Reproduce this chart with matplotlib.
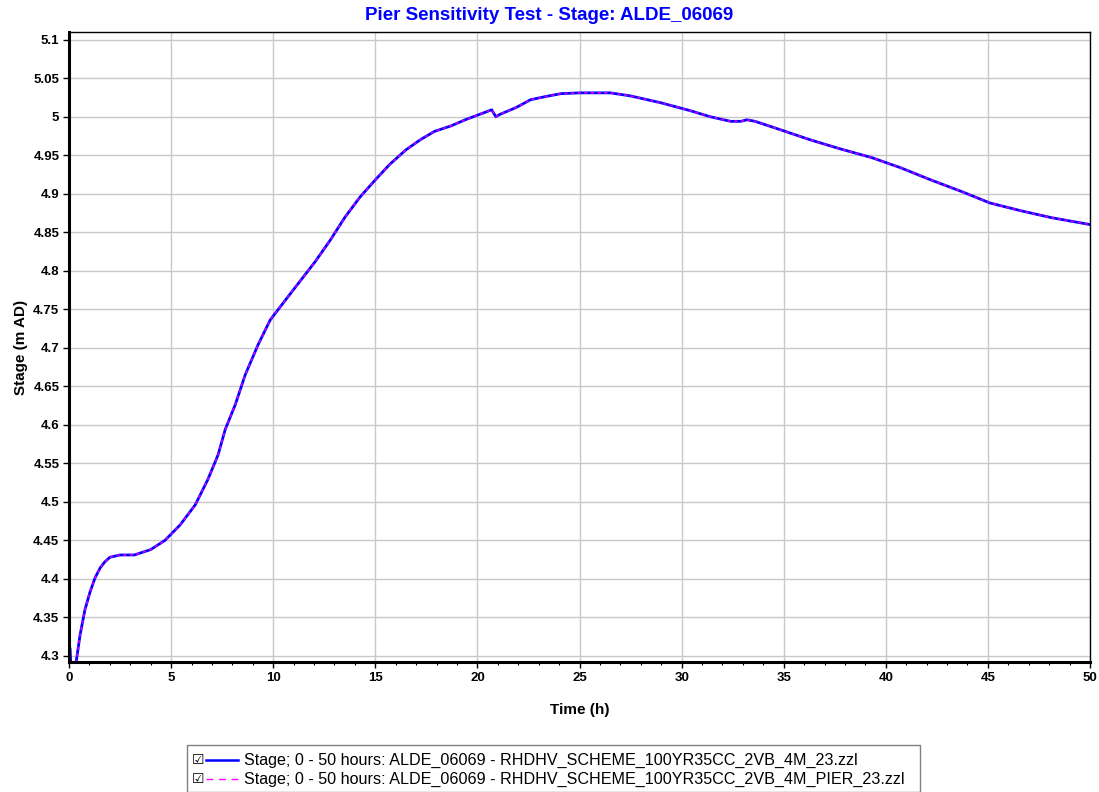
#!/usr/bin/env python3
import matplotlib

matplotlib.use("Agg")
import matplotlib.pyplot as plt
from matplotlib.patches import Rectangle
from matplotlib.lines import Line2D
from matplotlib.ticker import MultipleLocator
import numpy as np

plt.rcParams["font.family"] = ["Liberation Sans", "DejaVu Sans"]

# time (h) and stage (m AD)
time_h = [0.0, 0.05, 0.1, 0.35, 0.54, 0.78, 1.03, 1.27, 1.52, 1.75, 2.0, 2.5, 3.2, 4.0,
          4.7, 5.44, 6.18, 6.8, 7.3, 7.65, 8.14, 8.63, 9.26, 9.85, 10.6, 11.3, 12.06,
          12.8, 13.5, 14.26, 15.0, 15.7, 16.5, 17.2, 17.9, 18.7, 19.4, 20.1, 20.7,
          20.9, 21.1, 21.9, 22.6, 23.3, 24.1, 25.05, 26.5, 27.5, 29.0, 30.4, 31.4,
          32.4, 32.9, 33.2, 33.6, 34.85, 36.3, 37.8, 39.3, 40.7, 42.2, 43.7, 45.1,
          46.6, 48.1, 50.0]
stage_base = [4.31, 4.31, 4.285, 4.292, 4.327, 4.36, 4.383, 4.401, 4.414, 4.422, 4.428,
              4.431, 4.431, 4.438, 4.45, 4.47, 4.496, 4.529, 4.561, 4.594, 4.626,
              4.665, 4.704, 4.736, 4.762, 4.786, 4.812, 4.84, 4.869, 4.896, 4.918,
              4.938, 4.957, 4.970, 4.981, 4.988, 4.996, 5.003, 5.009, 5.0, 5.003,
              5.012, 5.022, 5.026, 5.03, 5.031, 5.031, 5.027, 5.018, 5.008, 5.0,
              4.994, 4.994, 4.996, 4.994, 4.983, 4.97, 4.958, 4.947, 4.934, 4.918,
              4.903, 4.888, 4.878, 4.869, 4.86]
stage_pier = list(stage_base)

labels = [
    "Stage; 0 - 50 hours: ALDE_06069 - RHDHV_SCHEME_100YR35CC_2VB_4M_23.zzl",
    "Stage; 0 - 50 hours: ALDE_06069 - RHDHV_SCHEME_100YR35CC_2VB_4M_PIER_23.zzl",
]

fig = plt.figure(figsize=(10.99, 7.92), dpi=100)
ax = fig.add_axes([0.0628, 0.1641, 0.9290, 0.7955])

ax.plot(time_h, stage_base, color="#0000ff", lw=2.0)
ax.plot(time_h, stage_pier, color="#ff00ff", lw=1.2, dashes=(2, 2), alpha=0.8)

ax.set_xlim(0, 50)
ax.set_ylim(4.292, 5.110)
ax.xaxis.set_major_locator(MultipleLocator(5))
ax.xaxis.set_minor_locator(MultipleLocator(1))
yt = np.round(np.arange(4.3, 5.1001, 0.05), 2)
ax.set_yticks(yt)
ax.set_yticklabels([f"{v:g}" for v in yt])
ax.grid(True, which="major", color="#c8c8c8", lw=1)
ax.set_axisbelow(True)

for lbl in ax.get_xticklabels() + ax.get_yticklabels():
    lbl.set_fontweight("bold")
ax.tick_params(which="major", length=4, width=1, labelsize=9.5, pad=3)
ax.tick_params(which="minor", length=2.5, width=0.8)
ax.spines["left"].set_linewidth(2.2)
ax.spines["bottom"].set_linewidth(2.2)
ax.spines["top"].set_linewidth(1)
ax.spines["right"].set_linewidth(1)

ax.set_xlabel("Time (h)", fontsize=11, fontweight="bold", labelpad=14)
ax.set_ylabel("Stage (m AD)", fontsize=11, fontweight="bold", labelpad=4)
fig.text(0.5, 1 - 16 / 792, "Pier Sensitivity Test - Stage: ALDE_06069",
         ha="center", va="center", color="#0000ff", fontsize=13.5, fontweight="bold")

# legend box with check marks, like the original viewer
W, H = 1099, 792
fig.patches.append(Rectangle((187 / W, 0), (920 - 187) / W, (792 - 745) / H,
                             transform=fig.transFigure, fill=False, ec="#808080", lw=1))
styles = [dict(color="#0000ff", lw=1.8), dict(color="#ff00ff", lw=1, dashes=(5, 4))]
for i, (lab, st) in enumerate(zip(labels, styles)):
    yy = 1 - (760 + 19 * i) / H
    fig.text(192 / W, yy, "\u2611", fontsize=10, va="center", ha="left",
             family="DejaVu Sans")
    fig.lines.append(Line2D([206 / W, 238 / W], [yy, yy], transform=fig.transFigure, **st))
    fig.text(244 / W, yy, lab, fontsize=11.6, va="center", ha="left")

fig.savefig("out.png", dpi=100)
